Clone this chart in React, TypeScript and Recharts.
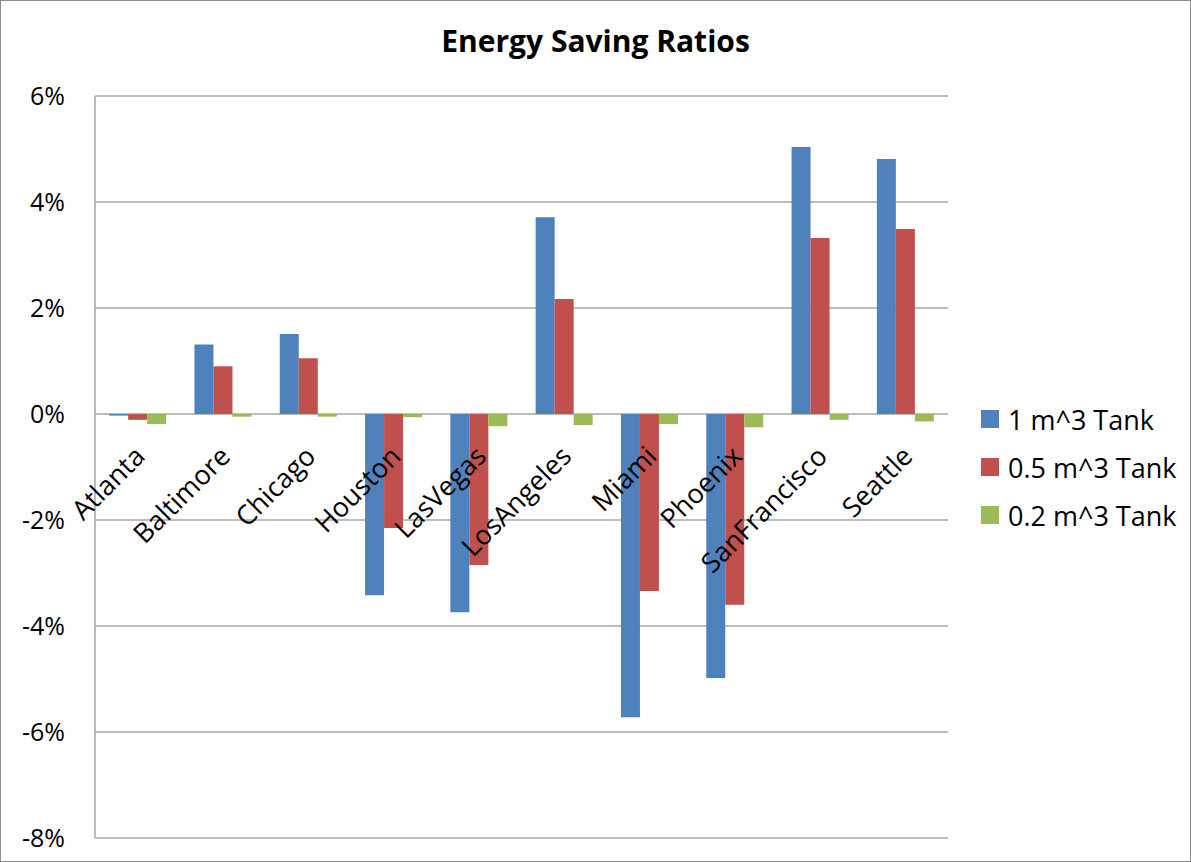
import { Bar, BarChart, CartesianGrid, XAxis, YAxis } from 'recharts';

const cities = [
  'Atlanta',
  'Baltimore',
  'Chicago',
  'Houston',
  'LasVegas',
  'LosAngeles',
  'Miami',
  'Phoenix',
  'SanFrancisco',
  'Seattle',
];
const tank1 = [-0.03, 1.31, 1.51, -3.42, -3.74, 3.71, -5.72, -4.98, 5.04, 4.81];
const tank05 = [-0.11, 0.9, 1.05, -2.15, -2.85, 2.17, -3.34, -3.6, 3.32, 3.49];
const tank02 = [-0.19, -0.05, -0.05, -0.06, -0.23, -0.21, -0.19, -0.25, -0.11, -0.14];
const yTicks = [-8, -6, -4, -2, 0, 2, 4, 6];

const series = [
  { key: 'tank1', name: '1 m^3 Tank', color: '#4F81BD' },
  { key: 'tank05', name: '0.5 m^3 Tank', color: '#C0504D' },
  { key: 'tank02', name: '0.2 m^3 Tank', color: '#9BBB59' },
];

const data = cities.map((city, i) => ({
  city,
  tank1: tank1[i],
  tank05: tank05[i],
  tank02: tank02[i],
}));

const W = 1189;
const H = 860;
const X_AXIS_H = 23;
const MARGIN = { top: 95, right: 242, bottom: 0, left: 0 };
const Y_MIN = -8;
const Y_MAX = 6;
const plotH = H - MARGIN.top - MARGIN.bottom - X_AXIS_H;
// category labels sit on the zero line, like Excel does
const zeroY = MARGIN.top + (plotH * Y_MAX) / (Y_MAX - Y_MIN);

const FONT = '"Open Sans", sans-serif';

function CityTick(props: any) {
  const { x, payload } = props;
  const tx = x + 9;
  const ty = zeroY + 44;
  return (
    <text
      x={tx}
      y={ty}
      textAnchor="end"
      fontSize={27}
      fill="#000"
      fontFamily={FONT}
      transform={`rotate(-45 ${tx} ${ty})`}
    >
      {payload.value}
    </text>
  );
}

function SideLegend() {
  return (
    <div style={{ position: 'absolute', left: 980, top: 394, fontFamily: FONT }}>
      {series.map((s) => (
        <div
          key={s.key}
          style={{ display: 'flex', alignItems: 'center', height: 48, whiteSpace: 'nowrap' }}
        >
          <span style={{ width: 18, height: 18, background: s.color, marginRight: 9 }} />
          <span style={{ fontSize: 27, color: '#000' }}>{s.name}</span>
        </div>
      ))}
    </div>
  );
}

export default function App() {
  return (
    <div
      style={{
        position: 'absolute',
        left: 0,
        top: 0,
        width: 1191,
        height: 862,
        boxSizing: 'border-box',
        border: '1px solid #8c8c8c',
        background: '#fff',
        fontFamily: FONT,
      }}
    >
      <div
        style={{
          position: 'absolute',
          left: 0,
          width: '100%',
          top: 25,
          textAlign: 'center',
          fontSize: 30,
          lineHeight: '30px',
          fontWeight: 700,
          color: '#000',
        }}
      >
        Energy Saving Ratios
      </div>
      <BarChart
        width={W}
        height={H}
        data={data}
        margin={MARGIN}
        barCategoryGap="16.6%"
        barGap={0}
      >
        <CartesianGrid vertical={false} stroke="#a6a6a6" strokeWidth={1.5} />
        <XAxis
          dataKey="city"
          axisLine={false}
          tickLine={false}
          height={X_AXIS_H}
          interval={0}
          tick={<CityTick />}
        />
        <YAxis
          domain={[Y_MIN, Y_MAX]}
          ticks={yTicks}
          width={94}
          tickSize={0}
          tickMargin={30}
          tickLine={false}
          axisLine={{ stroke: '#a6a6a6', strokeWidth: 1.5 }}
          tickFormatter={(v: number) => `${v}%`}
          tick={{ fontSize: 25, fill: '#000', fontFamily: FONT }}
        />
        {series.map((s) => (
          <Bar
            key={s.key}
            dataKey={s.key}
            name={s.name}
            fill={s.color}
            isAnimationActive={false}
          />
        ))}
      </BarChart>
      <SideLegend />
    </div>
  );
}
